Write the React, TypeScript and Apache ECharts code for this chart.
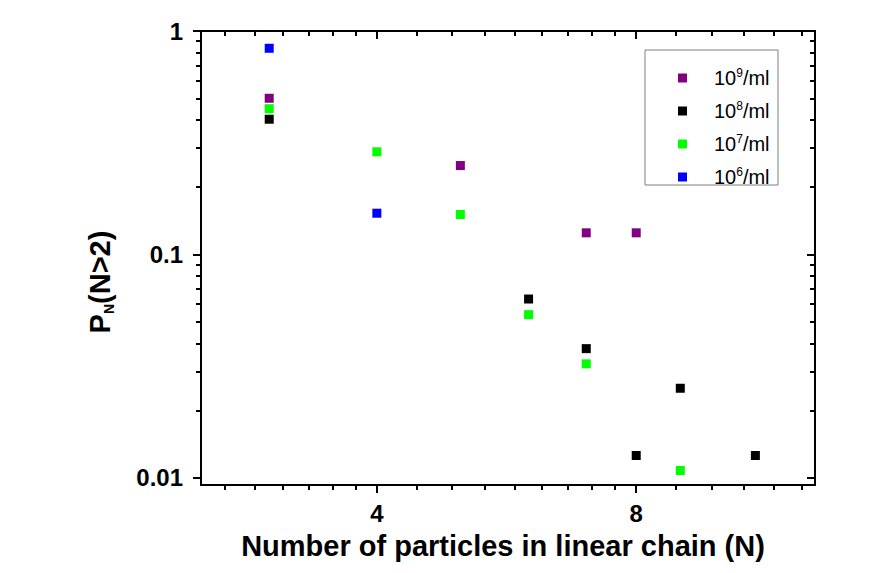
import { useEffect, useRef } from "react";
import * as echarts from "echarts";

const FONT = 'Arial, "Liberation Sans", Helvetica, sans-serif';

// Chain-length distribution for four particle concentrations
const seriesNames = ["10^9/ml", "10^8/ml", "10^7/ml", "10^6/ml"];
const seriesColors = ["#800080", "#000000", "#00ff00", "#0000ff"];

const n1e9 = [3, 5, 7, 8];
const p1e9 = [0.5, 0.25, 0.125, 0.125];

const n1e8 = [3, 6, 7, 8, 9, 11];
const p1e8 = [0.403, 0.0632, 0.0379, 0.0126, 0.0252, 0.0126];

const n1e7 = [3, 4, 5, 6, 7, 9];
const p1e7 = [0.449, 0.288, 0.151, 0.0538, 0.0324, 0.0108];

const n1e6 = [3, 4];
const p1e6 = [0.837, 0.153];

// Axis ranges and tick positions
const X_MIN = 2.5;
const X_MAX = 12.9;
const Y_MIN = 0.0093;
const Y_MAX = 1;

const xMajorTicks = [4, 8];
const xMinorTicks = [
  2.667, 2.889, 3.111, 3.333, 3.556, 3.778,
  4.444, 4.889, 5.333, 5.778, 6.222, 6.667, 7.111, 7.556,
  8.889, 9.778, 10.667, 11.556, 12.444,
];
const yMajorTicks = [0.01, 0.1, 1];
const yMinorTicks = [
  0.02, 0.03, 0.04, 0.05, 0.06, 0.07, 0.08, 0.09,
  0.2, 0.3, 0.4, 0.5, 0.6, 0.7, 0.8, 0.9,
];

const xs = [n1e9, n1e8, n1e7, n1e6];
const ys = [p1e9, p1e8, p1e7, p1e6];

const pair = (a: number[], b: number[]) => a.map((v, i) => [v, b[i]]);

const axisLineStyle = { color: "#000", width: 2 };
const tickStyle = { color: "#000", width: 2 };

function buildOption(): echarts.EChartsOption {
  const logX = { type: "log" as const, logBase: 2, min: X_MIN, max: X_MAX, splitLine: { show: false } };
  const logY = { type: "log" as const, logBase: 10, min: Y_MIN, max: Y_MAX, splitLine: { show: false } };

  const xAxis: any[] = [
    {
      ...logX,
      position: "bottom",
      axisLine: { show: true, lineStyle: axisLineStyle },
      axisTick: { show: true, customValues: xMajorTicks, length: 8, lineStyle: tickStyle },
      axisLabel: {
        customValues: xMajorTicks,
        formatter: (v: number) => String(Math.round(v)),
        fontSize: 24,
        fontWeight: "bold",
        color: "#000",
        fontFamily: FONT,
        margin: 16,
      },
      name: "Number of particles in linear chain (N)",
      nameLocation: "middle",
      nameGap: 46,
      nameTextStyle: {
        fontSize: 29,
        fontWeight: "bold",
        color: "#000",
        fontFamily: FONT,
        padding: [0, 10, 0, 0],
      },
    },
    {
      ...logX,
      position: "bottom",
      axisLine: { show: false },
      axisTick: { show: true, customValues: xMinorTicks, length: 5, lineStyle: tickStyle },
      axisLabel: { show: false },
    },
    {
      ...logX,
      position: "top",
      axisLine: { show: true, lineStyle: axisLineStyle },
      axisTick: { show: true, inside: true, customValues: xMajorTicks, length: 8, lineStyle: tickStyle },
      axisLabel: { show: false },
    },
    {
      ...logX,
      position: "top",
      axisLine: { show: false },
      axisTick: { show: true, inside: true, customValues: xMinorTicks, length: 5, lineStyle: tickStyle },
      axisLabel: { show: false },
    },
  ];

  const yAxis: any[] = [
    {
      ...logY,
      position: "left",
      axisLine: { show: true, lineStyle: axisLineStyle },
      axisTick: { show: true, customValues: yMajorTicks, length: 8, lineStyle: tickStyle },
      axisLabel: {
        customValues: yMajorTicks,
        formatter: (v: number) => String(Number(v.toPrecision(3))),
        fontSize: 24,
        fontWeight: "bold",
        color: "#000",
        fontFamily: FONT,
        margin: 18,
      },
    },
    {
      ...logY,
      position: "left",
      axisLine: { show: false },
      axisTick: { show: true, customValues: yMinorTicks, length: 5, lineStyle: tickStyle },
      axisLabel: { show: false },
    },
    {
      ...logY,
      position: "right",
      axisLine: { show: true, lineStyle: axisLineStyle },
      axisTick: { show: true, inside: true, customValues: yMajorTicks, length: 8, lineStyle: tickStyle },
      axisLabel: { show: false },
    },
    {
      ...logY,
      position: "right",
      axisLine: { show: false },
      axisTick: { show: true, inside: true, customValues: yMinorTicks, length: 5, lineStyle: tickStyle },
      axisLabel: { show: false },
    },
  ];

  const series: any[] = seriesNames.map((name, i) => ({
    name,
    type: "scatter",
    xAxisIndex: 0,
    yAxisIndex: 0,
    symbol: "rect",
    symbolSize: 9,
    itemStyle: { color: seriesColors[i], opacity: 1 },
    emphasis: { disabled: true },
    data: pair(xs[i], ys[i]),
  }));

  return {
    animation: false,
    backgroundColor: "#fff",
    textStyle: { fontFamily: FONT },
    grid: { left: 201, right: 72, top: 31, bottom: 88, containLabel: false },
    xAxis,
    yAxis,
    legend: {
      orient: "vertical",
      left: 673,
      top: 62,
      itemWidth: 9,
      itemHeight: 9,
      itemGap: 12,
      icon: "rect",
      selectedMode: false,
      data: seriesNames,
      formatter: (name: string) => {
        const m = name.match(/^(\d+)\^(\d+)(.*)$/);
        if (!m) return name;
        return `{pad|}{b|${m[1]}}{sup|${m[2]}}{b|${m[3]}}`;
      },
      textStyle: {
        color: "#000",
        fontSize: 20,
        fontFamily: FONT,
        lineHeight: 20,
        rich: {
          pad: { width: 22 },
          b: { fontSize: 20, color: "#000", fontFamily: FONT, lineHeight: 20 },
          sup: { fontSize: 12, color: "#000", fontFamily: FONT, padding: [0, 0, 10, 0] },
        },
      },
    },
    graphic: [
      {
        type: "rect",
        z: -1,
        shape: { x: 645, y: 50, width: 133, height: 135 },
        style: { fill: "none", stroke: "#7f7f7f", lineWidth: 1 },
      },
      {
        // y-axis title, rotated to read bottom-to-top
        type: "text",
        x: 100,
        y: 282,
        rotation: Math.PI / 2,
        style: {
          text: "{p|P}{s|N}{p|(N>2)}",
          align: "center",
          verticalAlign: "middle",
          rich: {
            p: { fontSize: 29, fontWeight: "bold", fill: "#000", fontFamily: FONT, lineHeight: 34 },
            s: { fontSize: 14, fontWeight: "bold", fill: "#000", fontFamily: FONT, padding: [18, 0, 0, 0] },
          } as any,
        },
      },
    ],
    series,
  };
}

export default function App() {
  const ref = useRef<HTMLDivElement>(null);

  useEffect(() => {
    if (!ref.current) return;
    const chart = echarts.init(ref.current, undefined, { renderer: "svg" });
    chart.setOption(buildOption());
    return () => chart.dispose();
  }, []);

  return (
    <div
      ref={ref}
      style={{ position: "absolute", left: 0, top: 0, width: 887, height: 573, background: "#fff" }}
    />
  );
}
